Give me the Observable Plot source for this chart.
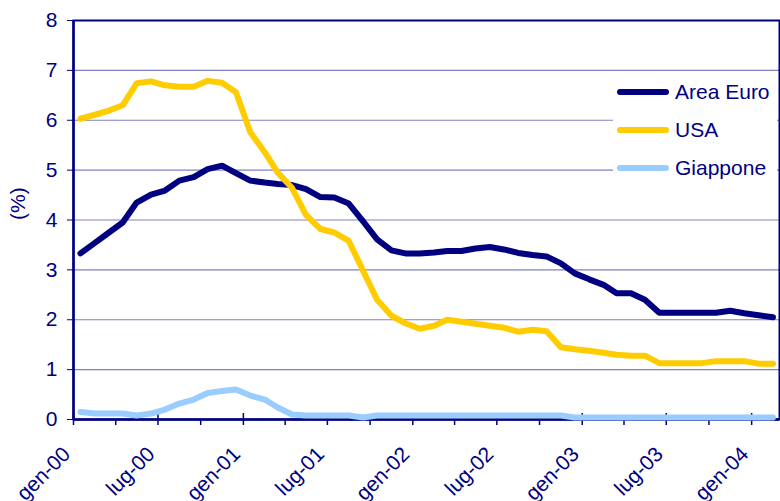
<!DOCTYPE html>
<html>
<head>
<meta charset="utf-8">
<script src="https://cdn.jsdelivr.net/npm/d3@7"></script>
<script src="https://cdn.jsdelivr.net/npm/@observablehq/plot@0.6"></script>
<style>
  html, body { margin: 0; padding: 0; background: #fff; }
  #wrap { position: relative; width: 780px; height: 501px; font-family: "Liberation Sans", Arial, sans-serif; }
  #legend { position: absolute; left: 613px; top: 73px; width: 164px; height: 114px; background: #fff; }
  .row { position: absolute; left: 0; height: 38px; line-height: 38px; font-size: 21px; color: #000080; white-space: nowrap; }
  .sw { position: absolute; left: 4px; top: 16px; width: 52px; height: 6px; border-radius: 3px; }
  .lab { position: absolute; left: 62px; top: 0; }
</style>
</head>
<body>
<div id="wrap"></div>
<script>
// Monthly observations, gen-00 .. feb-04
const months = [
  "2000-01","2000-02","2000-03","2000-04","2000-05","2000-06","2000-07","2000-08","2000-09","2000-10","2000-11","2000-12",
  "2001-01","2001-02","2001-03","2001-04","2001-05","2001-06","2001-07","2001-08","2001-09","2001-10","2001-11","2001-12",
  "2002-01","2002-02","2002-03","2002-04","2002-05","2002-06","2002-07","2002-08","2002-09","2002-10","2002-11","2002-12",
  "2003-01","2003-02","2003-03","2003-04","2003-05","2003-06","2003-07","2003-08","2003-09","2003-10","2003-11","2003-12",
  "2004-01","2004-02"
];
const areaEuro = [
  3.33,3.54,3.74,3.95,4.35,4.51,4.59,4.79,4.86,5.02,5.09,4.94,
  4.79,4.75,4.72,4.70,4.62,4.46,4.45,4.33,3.97,3.61,3.39,3.33,
  3.33,3.35,3.38,3.38,3.43,3.46,3.41,3.34,3.30,3.27,3.13,2.93,
  2.81,2.70,2.53,2.53,2.40,2.14,2.14,2.14,2.14,2.14,2.18,2.13,
  2.09,2.05
];
const usa = [
  6.03,6.11,6.19,6.30,6.74,6.78,6.70,6.67,6.67,6.79,6.75,6.56,
  5.76,5.36,4.95,4.64,4.10,3.82,3.75,3.58,2.98,2.40,2.08,1.93,
  1.82,1.88,2.00,1.96,1.92,1.88,1.84,1.76,1.80,1.77,1.45,1.41,
  1.38,1.34,1.30,1.28,1.28,1.13,1.13,1.13,1.13,1.17,1.17,1.17,
  1.12,1.12
];
const giappone = [
  0.15,0.12,0.12,0.12,0.08,0.12,0.20,0.32,0.40,0.53,0.57,0.60,
  0.48,0.40,0.24,0.10,0.08,0.08,0.08,0.08,0.04,0.08,0.08,0.08,
  0.08,0.08,0.08,0.08,0.08,0.08,0.08,0.08,0.08,0.08,0.08,0.04,
  0.04,0.04,0.04,0.04,0.04,0.04,0.04,0.04,0.04,0.04,0.04,0.04,
  0.04,0.04
];
const seriesNames = ["Area Euro", "USA", "Giappone"];
const seriesColors = ["#000080", "#FFCC00", "#99CCFF"];
const yTicks = [0,1,2,3,4,5,6,7,8];
const xTickLabels = ["gen-00","lug-00","gen-01","lug-01","gen-02","lug-02","gen-03","lug-03","gen-04"];
const xTickDates = ["2000-01-01","2000-07-01","2001-01-01","2001-07-01","2002-01-01","2002-07-01","2003-01-01","2003-07-01","2004-01-01"];
const xMinorDates = ["2000-04-01","2000-10-01","2001-04-01","2001-10-01","2002-04-01","2002-10-01","2003-04-01","2003-10-01"];
const xDomain = ["2000-01-01","2004-03-01"];

const navy = "#000080";
const toDate = s => new Date(s + "T00:00:00Z");
const monthDate = m => new Date(m + "-16T00:00:00Z");

const allSeries = [areaEuro, usa, giappone];
const rows = [];
allSeries.forEach((vals, k) => {
  vals.forEach((v, i) => rows.push({serie: seriesNames[k], date: monthDate(months[i]), value: v}));
});
const majors = xTickDates.map(toDate);
const minors = xMinorDates.map(toDate);
const labelRows = majors.map((d, i) => ({date: d, label: xTickLabels[i]}));

const lineMarks = seriesNames.map((name, k) =>
  Plot.line(rows.filter(r => r.serie === name), {
    x: "date", y: "value", stroke: seriesColors[k], strokeWidth: 6,
    strokeLinejoin: "round", strokeLinecap: "round"
  })
);

const chart = Plot.plot({
  width: 780,
  height: 501,
  marginLeft: 73,
  marginRight: 1,
  marginTop: 20,
  marginBottom: 82,
  style: {fontFamily: "'Liberation Sans', Arial, sans-serif", fontSize: "21px", color: navy, background: "#fff"},
  x: {type: "utc", domain: xDomain.map(toDate), axis: null},
  y: {domain: [0, 8], ticks: yTicks, tickSize: 6, tickPadding: 10, label: null, tickFormat: d3.format("d")},
  marks: [
    Plot.ruleY(yTicks.filter(t => t > 0 && t < 8), {stroke: "#8080C0", strokeWidth: 1.2}),
    Plot.frame({stroke: navy, strokeWidth: 2}),
    Plot.ruleY([0], {stroke: navy, strokeWidth: 2.5}),
    Plot.ruleX([toDate(xDomain[0])], {stroke: navy, strokeWidth: 2.5}),
    Plot.ruleX(minors, {x: d => d, y1: 0, y2: 0, insetTop: 6, insetBottom: 0, stroke: navy, strokeWidth: 1.5}),
    Plot.ruleX(majors, {x: d => d, y1: 0, y2: 0, insetTop: 6, insetBottom: 6, stroke: navy, strokeWidth: 1.5}),
    Plot.text(labelRows, {x: "date", text: "label", frameAnchor: "bottom", rotate: -45, textAnchor: "end",
      lineAnchor: "bottom", dx: -2, dy: 36, fill: navy, fontSize: 21}),
    Plot.text(["(%)"], {text: d => d, frameAnchor: "left", dx: -55, rotate: -90, fill: navy, fontSize: 21}),
    ...lineMarks
  ]
});
chart.querySelectorAll("g[aria-label='y-axis tick label'] text, g[aria-label='y-axis'] text").forEach(t => t.setAttribute("fill", navy));
document.getElementById("wrap").appendChild(chart);

const legend = document.createElement("div");
legend.id = "legend";
seriesNames.forEach((name, k) => {
  const row = document.createElement("div");
  row.className = "row";
  row.style.top = (k * 38) + "px";
  const sw = document.createElement("div");
  sw.className = "sw";
  sw.style.background = seriesColors[k];
  const lab = document.createElement("div");
  lab.className = "lab";
  lab.textContent = name;
  row.appendChild(sw);
  row.appendChild(lab);
  legend.appendChild(row);
});
document.getElementById("wrap").appendChild(legend);
</script>
</body>
</html>
